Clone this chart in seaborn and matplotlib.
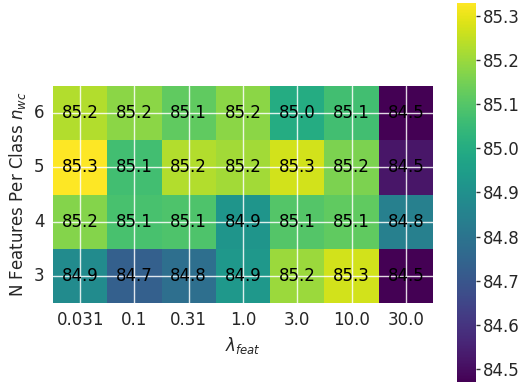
import numpy as np
import pandas as pd
import matplotlib
matplotlib.use("Agg")
import matplotlib.pyplot as plt
import seaborn as sns

lambdas = ["0.031", "0.1", "0.31", "1.0", "3.0", "10.0", "30.0"]
n_wc = ["6", "5", "4", "3"]
row_6 = [85.23, 85.18, 85.12, 85.18, 85.00, 85.07, 84.47]
row_5 = [85.33, 85.07, 85.23, 85.21, 85.27, 85.16, 84.52]
row_4 = [85.17, 85.08, 85.09, 84.92, 85.10, 85.12, 84.84]
row_3 = [84.88, 84.73, 84.78, 84.93, 85.20, 85.27, 84.47]

df = pd.DataFrame([row_6, row_5, row_4, row_3], index=n_wc, columns=lambdas)

sns.set_theme(style="darkgrid")
plt.rcParams['font.family'] = ['DejaVu Sans']

fig = plt.figure(figsize=(5.23, 3.85), dpi=100)
ax = fig.add_axes([53/523, 82/385, 380/523, 217/385])
cax = fig.add_axes([457/523, 3/385, 19/523, 379/385])

sns.heatmap(df, ax=ax, cbar_ax=cax, cmap="viridis", annot=True, fmt=".1f",
            annot_kws={"size": 12, "color": "black"}, vmin=84.47, vmax=85.33)
ax.set_axisbelow(False)
ax.grid(True, color="white", linewidth=1.0, alpha=0.85)
ax.set_xlabel(r"$\lambda_{feat}$", fontsize=12)
ax.set_ylabel(r"N Features Per Class $n_{wc}$", fontsize=12)
ax.tick_params(axis="both", labelsize=12, length=0, pad=6)
ax.set_yticklabels(n_wc, rotation=0)
ax.set_xticklabels(lambdas, rotation=0)

cax.set_yticks([84.5, 84.6, 84.7, 84.8, 84.9, 85.0, 85.1, 85.2, 85.3])
cax.tick_params(labelsize=12, length=3, width=1, color="#333333", pad=2)
for s in cax.spines.values():
    s.set_visible(False)

fig.savefig("out.png", dpi=100)
